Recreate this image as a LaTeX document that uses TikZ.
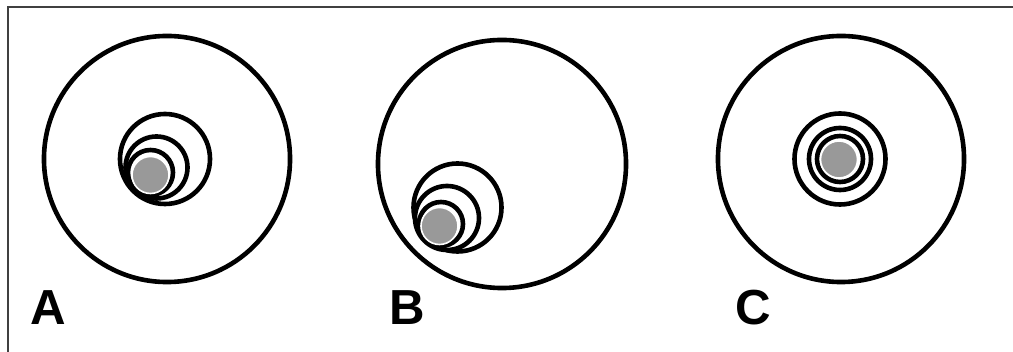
\documentclass[tikz,border=0pt]{standalone}
\usepackage{fontspec}
\setmainfont{Liberation Sans}
\usepackage{tikz}
\usetikzlibrary{positioning}
\tikzset{
  ring/.style   ={circle,draw=black,line width=0.115cm,inner sep=0pt,outer sep=0pt},
  core/.style   ={circle,fill=black!40,draw=white,line width=0.04cm,
                  inner sep=0pt,minimum size=0.925cm},
  lbl/.style    ={font=\fontsize{35}{35}\selectfont\bfseries,inner sep=0pt},
  frame/.style  ={draw=black!75,line width=0.04cm},
}

\begin{document}
\begin{tikzpicture}[
  x=0.025cm, y=-0.025cm,
]
\useasboundingbox (0,0) rectangle (1013,352);

%% ---------------- frame ----------------
\coordinate (fl) at (8,352);
\coordinate (fc) at (8,7);
\coordinate (fr) at (1013,7);
\draw[frame] (fl) -- (fc) -- (fr);

%% ---------------- A: rings touching at lower left ----------------
\node[ring,minimum size=6.15cm]  (A0) at (167,159)     {};
\node[ring,minimum size=2.25cm]  (A1) at (165,159)     {};
\node[ring,minimum size=1.55cm]  (A2) at (156.5,167.5) {};
\node[ring,minimum size=1.125cm] (A3) at (150.5,172.5) {};
\node[core]                      (Ac) at (150.5,175)   {};

%% ---------------- B: off-centre stack ----------------
\node[ring,minimum size=6.2cm]   (B0) at (502,164)     {};
\node[ring,minimum size=2.2cm]   (B1) at (457.5,207.5) {};
\node[ring,minimum size=1.6cm]   (B2) at (447,218)     {};
\node[ring,minimum size=1.1cm]   (B3) at (441,224)     {};
\node[core]                      (Bc) at (439.5,226)   {};

%% ---------------- C: concentric ----------------
\node[ring,minimum size=6.15cm]  (C0) at (841,159)     {};
\foreach \d/\n in {2.275/1, 1.55/2, 1.15/3}{
  \node[ring,minimum size=\d cm] (C\n) at (840,159) {};
}
\node[core]                      (Cc) at (839,159.5)   {};

%% ---------------- labels ----------------
\node[lbl] (labA) at (48.5,308) {A};
\node[lbl] (labB) at (407,308)  {B};
\node[lbl] (labC) at (753,308)  {C};

\end{tikzpicture}
\end{document}
